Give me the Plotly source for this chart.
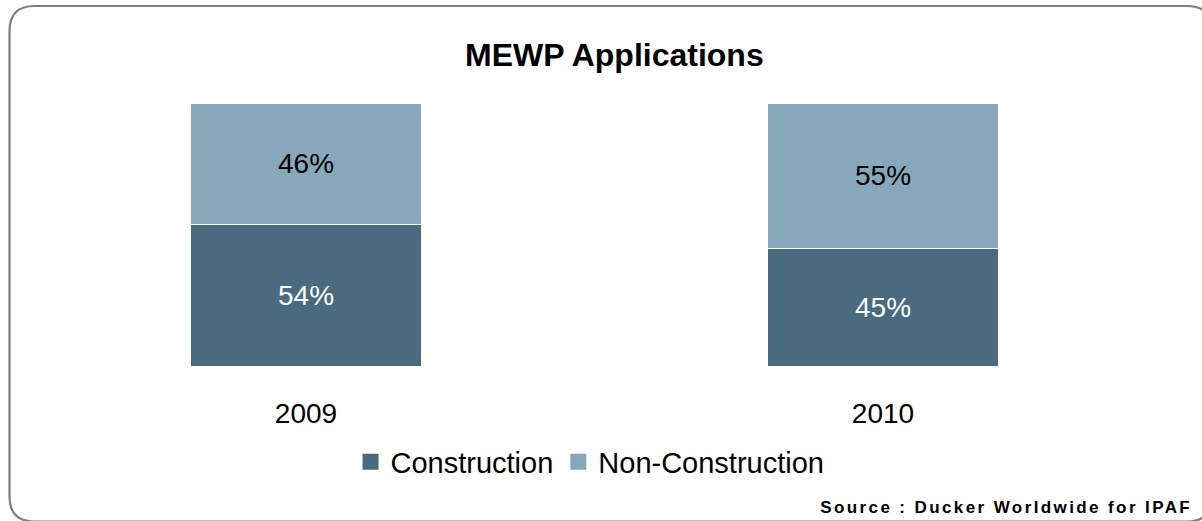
import plotly.graph_objects as go

# Chart data
years = ["2009", "2010"]
construction = [54, 45]
non_construction = [46, 55]
series_names = ["Construction", "Non-Construction"]
title_text = "MEWP Applications"
source_text = "Source : Ducker Worldwide for IPAF"

W, H = 1202, 521
DARK = "#4a6b7f"
LIGHT = "#87a7ba"
FONT = "Liberation Sans, Arial, sans-serif"


def px_x(x):
    return x / W


def px_y(y):
    return 1 - y / H


fig = go.Figure()
for vals, name, color, txt in [
    (construction, series_names[0], DARK, "white"),
    (non_construction, series_names[1], LIGHT, "black"),
]:
    fig.add_trace(go.Bar(
        x=years, y=vals, name=name, showlegend=False,
        marker=dict(color=color, line=dict(color="white", width=1.2)),
        width=0.4,
        texttemplate="%{y:.0f}%", textposition="inside", insidetextanchor="middle",
        textfont=dict(family=FONT, size=28, color=txt),
        hoverinfo="skip",
    ))
    # legend key: larger square swatch than the default bar icon
    fig.add_trace(go.Scatter(
        x=[None], y=[None], mode="markers", name=name,
        marker=dict(symbol="square", size=16, color=color),
        hoverinfo="skip",
    ))

# Rounded frame around the chart (pixel geometry converted to paper units)
left, top, right, bottom, r = 9.5, 6.0, 1212.0, 521.5, 25.0
path = (
    f"M {px_x(left + r)},{px_y(top)} "
    f"L {px_x(right - r)},{px_y(top)} "
    f"Q {px_x(right)},{px_y(top)} {px_x(right)},{px_y(top + r)} "
    f"L {px_x(right)},{px_y(bottom - r)} "
    f"Q {px_x(right)},{px_y(bottom)} {px_x(right - r)},{px_y(bottom)} "
    f"L {px_x(left + r)},{px_y(bottom)} "
    f"Q {px_x(left)},{px_y(bottom)} {px_x(left)},{px_y(bottom - r)} "
    f"L {px_x(left)},{px_y(top + r)} "
    f"Q {px_x(left)},{px_y(top)} {px_x(left + r)},{px_y(top)} Z"
)

fig.update_layout(
    width=W, height=H,
    margin=dict(l=0, r=0, t=0, b=0),
    paper_bgcolor="white", plot_bgcolor="white",
    barmode="stack",
    font=dict(family=FONT, color="black"),
    showlegend=True,
    legend=dict(
        orientation="h", x=px_x(590), xanchor="center",
        y=px_y(462), yanchor="middle",
        font=dict(family=FONT, size=29, color="black"),
        bgcolor="rgba(0,0,0,0)", traceorder="normal",
    ),
    xaxis=dict(
        domain=[px_x(17.5), px_x(1171.5)], range=[-0.5, 1.5],
        type="category", showgrid=False, showline=False, zeroline=False,
        ticks="", ticklabelstandoff=27,
        tickfont=dict(family=FONT, size=28, color="black"),
    ),
    yaxis=dict(
        domain=[px_y(367), px_y(103)], range=[0, 100],
        visible=False, showgrid=False, zeroline=False,
    ),
    shapes=[dict(
        type="path", xref="paper", yref="paper", path=path,
        line=dict(color="#7f7f7f", width=2.2), fillcolor="rgba(0,0,0,0)",
        layer="above",
    )],
    annotations=[
        dict(
            text=f"<b>{title_text}</b>", xref="paper", yref="paper",
            x=px_x(614.5), y=px_y(55), xanchor="center", yanchor="middle",
            showarrow=False, font=dict(family=FONT, size=32, color="black"),
        ),
        dict(
            text=f"<b>{source_text}</b>", xref="paper", yref="paper",
            x=px_x(1006), y=px_y(507), xanchor="center", yanchor="middle",
            showarrow=False, font=dict(family=FONT, size=17, color="black"),
        ),
    ],
)

# Widen the letter spacing of the source credit
post = """
var gd = document.getElementById('{plot_id}');
function spaceSource() {
  gd.querySelectorAll('.annotation-text').forEach(function (t) {
    if (t.textContent.indexOf('Source') === 0) { t.style.letterSpacing = '2.4px'; }
  });
}
spaceSource();
gd.on('plotly_afterplot', spaceSource);
"""

fig.write_html("out.html", post_script=post, config={"displayModeBar": False})
